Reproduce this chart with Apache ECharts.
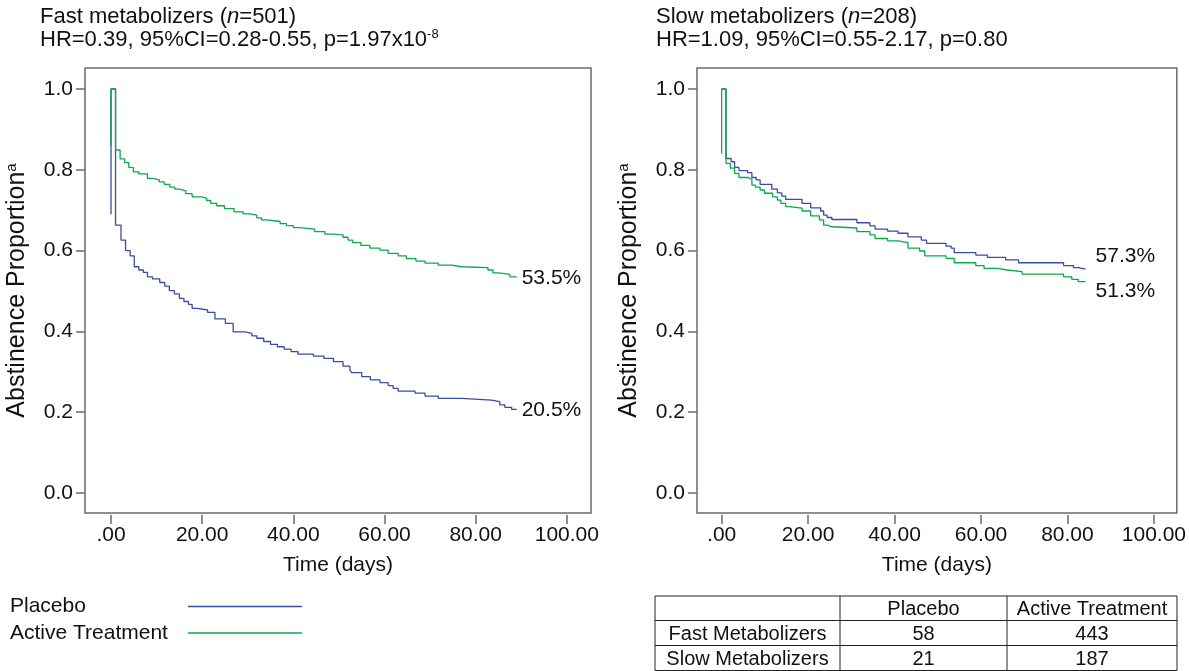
<!DOCTYPE html>
<html><head><meta charset="utf-8">
<script src="https://cdn.jsdelivr.net/npm/echarts@6/dist/echarts.min.js"></script>
<style>html,body{margin:0;padding:0;background:#fff}#c{width:1189px;height:671px}</style>
</head><body><div id="c"></div>
<script>
// ---- data ----
const seriesNames = ['Placebo', 'Active Treatment'];
const xTicks = [0, 20, 40, 60, 80, 100];
const yTicks = [0, 0.2, 0.4, 0.6, 0.8, 1.0];
const panelTitles = [
  'Fast metabolizers ({i|n}=501)\nHR=0.39, 95%CI=0.28-0.55, p=1.97x10{s|-8}',
  'Slow metabolizers ({i|n}=208)\nHR=1.09, 95%CI=0.55-2.17, p=0.80'
];
const fastPlacebo = [[0,0.69],[0,1.0],[1,0.663],[2.2,0.626],[3.2,0.600],[4.2,0.587],[5.1,0.560],[6.1,0.552],[7.1,0.546],[8.0,0.535],[9.1,0.530],[10.7,0.521],[11.8,0.512],[12.8,0.501],[13.9,0.493],[15.0,0.482],[16.0,0.474],[17.0,0.467],[17.8,0.457],[18.9,0.453],[21.2,0.447],[22.8,0.431],[25.1,0.420],[26.8,0.399],[29.4,0.395],[30.9,0.389],[32.0,0.383],[33.5,0.375],[35.0,0.368],[36.5,0.362],[38.0,0.356],[39.5,0.350],[41.0,0.344],[44.4,0.339],[46.7,0.333],[48.8,0.325],[50.9,0.314],[52.4,0.304],[52.8,0.298],[55.0,0.288],[56.9,0.280],[59.0,0.273],[60.8,0.266],[61.9,0.259],[63.0,0.252],[66.7,0.247],[68.9,0.240],[71.8,0.234],[76.9,0.230],[83.5,0.226],[85.3,0.218],[86.4,0.212],[87.9,0.207],[89.0,0.207]];
const fastActive = [[0,0.86],[0,1.0],[1,0.849],[2,0.827],[3,0.818],[3.9,0.806],[4.9,0.795],[6.1,0.790],[8,0.779],[9.1,0.775],[10.6,0.770],[11.7,0.764],[12.9,0.757],[14,0.752],[15.1,0.748],[16.4,0.741],[17.8,0.733],[19.9,0.729],[21,0.724],[21.9,0.717],[23.2,0.711],[24.9,0.704],[27,0.696],[29,0.691],[30.5,0.688],[32,0.681],[33,0.676],[34.1,0.672],[37.1,0.667],[38.5,0.662],[40,0.657],[41.4,0.653],[44.7,0.647],[46.9,0.641],[48.8,0.639],[50.9,0.633],[52,0.626],[53,0.620],[54.8,0.613],[56.8,0.606],[59,0.601],[60.8,0.593],[63,0.587],[64.8,0.580],[66.9,0.574],[68.9,0.569],[71.8,0.564],[74.7,0.560],[76.9,0.558],[82.7,0.552],[83.8,0.545],[85,0.541],[87.5,0.535],[89,0.535]];
const slowPlacebo = [[0,1.0],[1,0.828],[2.2,0.820],[3,0.806],[4,0.798],[6,0.793],[7,0.781],[8,0.775],[8.9,0.764],[11.6,0.752],[12.9,0.743],[13.9,0.735],[14.8,0.727],[18.6,0.717],[20.6,0.706],[22.9,0.698],[23.6,0.688],[24.4,0.682],[25.5,0.677],[31.3,0.669],[34.3,0.661],[35.5,0.653],[38.4,0.648],[40.8,0.643],[43.1,0.634],[46.2,0.626],[47.4,0.618],[51.9,0.611],[53.1,0.606],[53.8,0.595],[58.8,0.589],[61.5,0.583],[65.7,0.577],[68.7,0.570],[79.1,0.563],[81.4,0.558],[82.5,0.554],[84.2,0.554]];
const slowActive = [[0,0.84],[0,1.0],[1,0.816],[2,0.804],[3,0.791],[4,0.781],[6,0.777],[7,0.762],[7.8,0.757],[8.9,0.750],[9.9,0.742],[11.8,0.733],[12.9,0.725],[13.7,0.717],[14.8,0.709],[15.6,0.705],[18.6,0.698],[20.6,0.686],[22.6,0.676],[23.6,0.663],[24.4,0.659],[25.5,0.656],[31.3,0.647],[34.3,0.639],[35.5,0.630],[38.4,0.624],[40.8,0.620],[43.1,0.606],[45.8,0.599],[47,0.587],[51.9,0.581],[53.8,0.570],[58.8,0.563],[60.7,0.556],[63.8,0.552],[66.1,0.548],[69.5,0.542],[79.1,0.535],[81,0.529],[82.5,0.523],[84.2,0.523]];
const endLabelTexts = ['20.5%', '53.5%', '57.3%', '51.3%'];
const tableHeader = ['', 'Placebo', 'Active Treatment'];
const tableRowNames = ['Fast Metabolizers', 'Slow Metabolizers'];
const tablePlacebo = [58, 21];
const tableActive = [443, 187];

// ---- style ----
const FONT = '"Liberation Sans", Arial, Helvetica, sans-serif';
const FS = 21;
const FS_TITLE = 22;
const FS_YNAME = 25;
const COLORS = ['#3a4d9e', '#0aa94c'];
const AXIS_GRAY = '#6b6b6b';
const TXT = '#111';

const chart = echarts.init(document.getElementById('c'), null, {renderer: 'canvas'});

const grids = [
  {left: 85, top: 68, width: 506, height: 445},
  {left: 697, top: 68, width: 484, height: 445}
];

function xAxisFor(i) {
  return {
    gridIndex: i, type: 'value', min: -5.7, max: 105.3, offset: 2,
    axisLine: {show: false, onZero: false},
    splitLine: {show: false},
    axisTick: {show: true, customValues: xTicks, length: 9, lineStyle: {color: AXIS_GRAY, width: 1.5}},
    axisLabel: {customValues: xTicks, margin: 10, fontSize: FS, color: TXT, fontFamily: FONT,
      formatter: v => v === 0 ? '.00' : v.toFixed(2)},
    name: 'Time (days)', nameLocation: 'middle', nameGap: 40,
    nameTextStyle: {fontSize: FS, color: TXT, fontFamily: FONT}
  };
}
function yAxisFor(i) {
  return {
    gridIndex: i, type: 'value', min: -0.0495, max: 1.052,
    axisLine: {show: false, onZero: false},
    splitLine: {show: false},
    axisTick: {show: true, customValues: yTicks, length: 9, lineStyle: {color: AXIS_GRAY, width: 1.5}},
    axisLabel: {customValues: yTicks, margin: 12, fontSize: FS, color: TXT, fontFamily: FONT,
      formatter: v => v.toFixed(1)},
    name: '{n|Abstinence Proportion}{s|a}', nameLocation: 'middle', nameGap: 55, nameRotate: 90,
    nameTextStyle: {fontSize: FS_YNAME, color: TXT, fontFamily: FONT, lineHeight: 26,
      rich: {n: {fontSize: FS_YNAME, fontFamily: FONT, color: TXT, lineHeight: 26},
             s: {fontSize: 15, fontFamily: FONT, color: TXT, verticalAlign: 'top', lineHeight: 26}}}
  };
}

function km(name, data, gi, color, label, offset, distance) {
  return {
    name, type: 'line', xAxisIndex: gi, yAxisIndex: gi, data, step: 'end',
    showSymbol: false, symbol: 'none', silent: true,
    lineStyle: {color, width: 1.3}, itemStyle: {color},
    endLabel: {show: true, formatter: () => label, fontSize: FS, color: TXT, fontFamily: FONT,
      offset, distance}
  };
}

const graphics = [];
// legend
seriesNames.forEach((nm, k) => {
  const y = 606.5 + k * 26.5;
  graphics.push({type: 'text', x: 10, y, style: {text: nm, font: FS + 'px ' + FONT, fill: TXT, textVerticalAlign: 'middle'}});
  graphics.push({type: 'line', shape: {x1: 188, y1: y, x2: 302, y2: y}, style: {stroke: COLORS[k], lineWidth: 1.3}});
});
// table
const colX = [655, 840, 1007, 1177];
const rowY = [596, 620.5, 645.5, 670.5];
const tStroke = {stroke: '#222', lineWidth: 1};
rowY.forEach(y => graphics.push({type: 'line', shape: {x1: colX[0], y1: y, x2: colX[3], y2: y}, style: tStroke}));
colX.forEach(x => graphics.push({type: 'line', shape: {x1: x, y1: rowY[0], x2: x, y2: rowY[3]}, style: tStroke}));
const tableCells = [tableHeader].concat(tableRowNames.map((r, i) => [r, String(tablePlacebo[i]), String(tableActive[i])]));
tableCells.forEach((row, ri) => {
  row.forEach((txt, ci) => {
    if (!txt) return;
    graphics.push({type: 'text', x: (colX[ci] + colX[ci + 1]) / 2, y: (rowY[ri] + rowY[ri + 1]) / 2 + 1,
      style: {text: txt, font: '20px ' + FONT, fill: TXT, textAlign: 'center', textVerticalAlign: 'middle'}});
  });
});

const titleRich = {i: {fontStyle: 'italic', fontSize: FS_TITLE, fontFamily: FONT, color: TXT, lineHeight: 23},
                   s: {fontSize: 13, fontFamily: FONT, color: TXT, verticalAlign: 'top', lineHeight: 23}};

chart.setOption({
  animation: false,
  backgroundColor: '#fff',
  title: [
    {text: panelTitles[0], left: 40, top: 5, padding: 0,
     textStyle: {fontSize: FS_TITLE, fontWeight: 'normal', color: TXT, fontFamily: FONT, lineHeight: 23, rich: titleRich}},
    {text: panelTitles[1], left: 656, top: 5, padding: 0,
     textStyle: {fontSize: FS_TITLE, fontWeight: 'normal', color: TXT, fontFamily: FONT, lineHeight: 23, rich: titleRich}}
  ],
  grid: grids.map(g => Object.assign({show: true, borderColor: AXIS_GRAY, borderWidth: 1.5, backgroundColor: 'transparent', containLabel: false}, g)),
  xAxis: [xAxisFor(0), xAxisFor(1)],
  yAxis: [yAxisFor(0), yAxisFor(1)],
  series: [
    km(seriesNames[0], fastPlacebo, 0, COLORS[0], endLabelTexts[0], [0, 1], 5),
    km(seriesNames[1], fastActive, 0, COLORS[1], endLabelTexts[1], [0, 1], 5),
    km(seriesNames[0], slowPlacebo, 1, COLORS[0], endLabelTexts[2], [0, -12.5], 10),
    km(seriesNames[1], slowActive, 1, COLORS[1], endLabelTexts[3], [0, 9.5], 10)
  ],
  graphic: graphics
});
</script></body></html>
